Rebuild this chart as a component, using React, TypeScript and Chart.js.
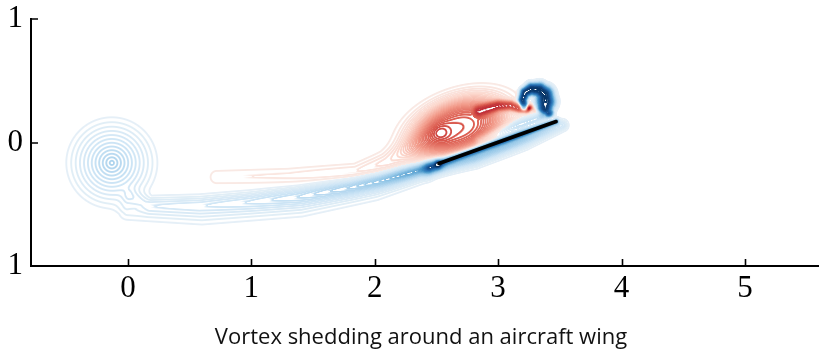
import { useEffect, useRef } from "react";
import { Chart, registerables } from "chart.js";

Chart.register(...registerables);

const TITLE = "Vortex shedding around an aircraft wing";

// axes
const xTicks = [0, 1, 2, 3, 4, 5];
const yTicks = [-1, 0, 1];
const xLimits = [-0.785, 5.6];
const yLimits = [-1, 1];

// wing chord, leading edge -> trailing edge
const wingX = [2.52, 3.47];
const wingY = [-0.17, 0.17];

// contour levels are spaced one unit of vorticity apart, up to this many on each side
const levelCount = 45;
const colourFloor = 0.07;

// compact vortex cores: [x, y, strength, spread along, spread across, tilt deg, profile exponent (0 = cone)]
const startingVortex = [-0.13, -0.165, 12.6, 0.42, 0.42, 0, 0];
const leadingEdgeVortex = [2.68, 0.12, -26, 0.38, 0.22, 20, 3];
const curlLobe = [3.255, 0.283, -30, 0.028, 0.025, 0, 2];

// vortex sheets, polyline vertices: [x, y, strength, thickness]
const wakeSheet = [
  [0.02, -0.44, 2.5, 0.06],
  [0.18, -0.5, 3, 0.06],
  [0.58, -0.5, 4, 0.065],
  [0.99, -0.47, 5, 0.065],
  [1.39, -0.43, 7, 0.065],
  [1.8, -0.36, 10, 0.06],
  [2.04, -0.31, 14, 0.055],
  [2.28, -0.245, 20, 0.05],
  [2.5, -0.18, 24, 0.045],
];
const wakeSheetOuter = [
  [0.0, -0.55, 2.5, 0.08],
  [0.6, -0.57, 3, 0.09],
  [1.4, -0.5, 3.5, 0.09],
  [2.0, -0.38, 3.5, 0.08],
  [2.4, -0.26, 3.5, 0.06],
];
const separatedLayer = [
  [0.72, -0.28, -1.8, 0.065],
  [1.3, -0.27, -2.2, 0.065],
  [1.85, -0.24, -3.2, 0.065],
  [2.1, -0.16, -4.5, 0.08],
  [2.3, -0.04, -5, 0.09],
  [2.5, 0.07, -5, 0.1],
];
const shearLayer = [
  [2.85, 0.26, -12, 0.05],
  [3.0, 0.3, -22, 0.045],
  [3.1, 0.3, -24, 0.04],
  [3.17, 0.275, -24, 0.034],
  [3.23, 0.265, -20, 0.03],
];
const trailingLayer = [
  [3.3, 0.26, -8, 0.02],
  [3.38, 0.22, -6, 0.018],
  [3.46, 0.18, -4, 0.015],
];
const wingLayer = [
  [2.52, -0.17, 22, 0.03],
  [2.75, -0.09, 30, 0.026],
  [3.0, 0.0, 32, 0.025],
  [3.47, 0.17, 28, 0.022],
];
const wingLayerLower = [
  [2.45, -0.21, 20, 0.055],
  [2.8, -0.11, 20, 0.065],
  [3.2, 0.03, 14, 0.06],
  [3.52, 0.14, 6, 0.04],
];
const wingLayerUpper = [
  [2.85, 0.02, 6, 0.035],
  [3.15, 0.14, 10, 0.04],
  [3.4, 0.22, 8, 0.03],
];
const tipCurl = [
  [3.211, 0.291, 40, 0.03],
  [3.198, 0.348, 43, 0.036],
  [3.219, 0.405, 44, 0.042],
  [3.271, 0.433, 44, 0.05],
  [3.336, 0.425, 44, 0.06],
  [3.377, 0.389, 44, 0.07],
  [3.385, 0.332, 44, 0.075],
  [3.381, 0.283, 43, 0.064],
  [3.409, 0.243, 34, 0.042],
];

const cores = [startingVortex, leadingEdgeVortex, curlLobe];
const sheets = [
  { pts: wakeSheet, p: 2 },
  { pts: wakeSheetOuter, p: 2 },
  { pts: separatedLayer, p: 2 },
  { pts: shearLayer, p: 3 },
  { pts: trailingLayer, p: 2 },
  { pts: wingLayer, p: 2 },
  { pts: wingLayerLower, p: 2 },
  { pts: wingLayerUpper, p: 2 },
  { pts: tipCurl, p: 3 },
];

// diverging red-blue colour map
const RDBU = [
  [103, 0, 31], [178, 24, 43], [218, 90, 78], [242, 155, 138], [252, 216, 206],
  [247, 247, 247], [208, 230, 246], [150, 200, 232], [67, 147, 200], [33, 102, 172], [5, 48, 97],
];

function rdbu(u: number): number[] {
  const c = Math.min(1, Math.max(0, u)) * 10;
  const i = Math.min(9, Math.floor(c));
  const f = c - i;
  const a = RDBU[i], b = RDBU[i + 1];
  return [a[0] + (b[0] - a[0]) * f, a[1] + (b[1] - a[1]) * f, a[2] + (b[2] - a[2]) * f];
}

function profile(q: number, p: number): number {
  if (p === 0) return q < 1 ? Math.pow(1 - q, 1.2) : 0;
  return Math.exp(-Math.pow(q, p));
}

type Seg = { ax: number; ay: number; dx: number; dy: number; len2: number; a0: number; a1: number; s0: number; s1: number };

function buildSegments(pts: number[][]): Seg[] {
  const out: Seg[] = [];
  for (let i = 0; i < pts.length - 1; i++) {
    const [ax, ay, a0, s0] = pts[i];
    const [bx, by, a1, s1] = pts[i + 1];
    const dx = bx - ax, dy = by - ay;
    out.push({ ax, ay, dx, dy, len2: dx * dx + dy * dy || 1e-12, a0, a1, s0, s1 });
  }
  return out;
}

function vorticity(x: number, y: number, segSets: { segs: Seg[]; p: number }[]): number {
  let w = 0;
  for (const c of cores) {
    const [cx, cy, a, sa, sb, ang, p] = c;
    const th = (ang * Math.PI) / 180;
    const co = Math.cos(th), si = Math.sin(th);
    const dx = x - cx, dy = y - cy;
    const u = (dx * co + dy * si) / sa;
    const v = (-dx * si + dy * co) / sb;
    w += a * profile(Math.sqrt(u * u + v * v), p);
  }
  for (const set of segSets) {
    let best = 0;
    for (const s of set.segs) {
      let t = ((x - s.ax) * s.dx + (y - s.ay) * s.dy) / s.len2;
      t = t < 0 ? 0 : t > 1 ? 1 : t;
      const px = s.ax + s.dx * t - x, py = s.ay + s.dy * t - y;
      const d = Math.sqrt(px * px + py * py);
      const amp = s.a0 + (s.a1 - s.a0) * t;
      const th = s.s0 + (s.s1 - s.s0) * t;
      const val = amp * profile(d / th, set.p);
      if (Math.abs(val) > Math.abs(best)) best = val;
    }
    w += best;
  }
  return w;
}

const levelColours: number[][] = [];
for (let k = -levelCount; k <= levelCount; k++) {
  const t = colourFloor + ((1 - colourFloor) * Math.abs(k)) / levelCount;
  levelColours.push(rdbu(0.5 + Math.sign(k) * t * 0.5));
}

const contourPlugin = {
  id: "vorticityContours",
  beforeDatasetsDraw(chart: any) {
    const { ctx, chartArea: area, scales } = chart;
    const xs = scales.x, ys = scales.y;
    const L = Math.floor(area.left), T = Math.floor(area.top);
    const W = Math.ceil(area.right) - L, H = Math.ceil(area.bottom) - T;
    const gw = W + 2, gh = H + 2;
    const xv = new Float64Array(gw), yv = new Float64Array(gh);
    for (let i = 0; i < gw; i++) xv[i] = xs.getValueForPixel(L - 1 + i + 0.5);
    for (let j = 0; j < gh; j++) yv[j] = ys.getValueForPixel(T - 1 + j + 0.5);
    const segSets = sheets.map((s) => ({ segs: buildSegments(s.pts), p: s.p }));
    const f = new Float32Array(gw * gh);
    for (let j = 0; j < gh; j++) for (let i = 0; i < gw; i++) f[j * gw + i] = vorticity(xv[i], yv[j], segSets);

    const off = document.createElement("canvas");
    off.width = W;
    off.height = H;
    const octx = off.getContext("2d")!;
    const img = octx.createImageData(W, H);
    const halfWidth = 0.95;
    for (let j = 0; j < H; j++) {
      for (let i = 0; i < W; i++) {
        const c = (j + 1) * gw + (i + 1);
        const w = f[c];
        const gx = (f[c + 1] - f[c - 1]) * 0.5;
        const gy = (f[c + gw] - f[c - gw]) * 0.5;
        const g = Math.sqrt(gx * gx + gy * gy) + 1e-9;
        let k = Math.round(w);
        if (k === 0) k = w >= 0 ? 1 : -1;
        if (k > levelCount) k = levelCount;
        if (k < -levelCount) k = -levelCount;
        const d = Math.abs(w - k) / g;
        const alpha = Math.min(1, Math.max(0, halfWidth + 0.5 - d));
        if (alpha <= 0) continue;
        const col = levelColours[k + levelCount];
        const o = (j * W + i) * 4;
        img.data[o] = col[0];
        img.data[o + 1] = col[1];
        img.data[o + 2] = col[2];
        img.data[o + 3] = Math.round(alpha * 255);
      }
    }
    octx.putImageData(img, 0, 0);
    ctx.drawImage(off, L, T);
  },
};

// tick marks pointing into the axes, and the caption under the axis
const axisDecorPlugin = {
  id: "axisDecor",
  afterDraw(chart: any) {
    const { ctx, chartArea: a, scales } = chart;
    ctx.save();
    ctx.strokeStyle = "#000";
    ctx.lineWidth = 1.6;
    ctx.beginPath();
    for (const v of xTicks) {
      const px = Math.round(scales.x.getPixelForValue(v)) + 0.5;
      ctx.moveTo(px, a.bottom);
      ctx.lineTo(px, a.bottom - 7);
    }
    for (const v of yTicks) {
      const py = Math.round(scales.y.getPixelForValue(v));
      ctx.moveTo(a.left, py);
      ctx.lineTo(a.left + 7, py);
    }
    ctx.stroke();
    ctx.fillStyle = "#111";
    ctx.font = "22px 'Open Sans', sans-serif";
    ctx.textAlign = "center";
    ctx.textBaseline = "middle";
    ctx.fillText(TITLE, 421, 338);
    ctx.restore();
  },
};

export default function App() {
  const ref = useRef<HTMLCanvasElement | null>(null);

  useEffect(() => {
    document.body.style.margin = "0";
    const canvas = ref.current;
    if (!canvas) return;
    const tickFont = { family: "'Liberation Serif', serif", size: 31 };
    const chart = new Chart(canvas, {
      type: "scatter",
      data: {
        datasets: [
          {
            type: "line",
            data: wingX.map((x, i) => ({ x, y: wingY[i] })),
            borderColor: "#000",
            borderWidth: 3.5,
            borderCapStyle: "round",
            pointRadius: 0,
            fill: false,
          } as any,
        ],
      },
      options: {
        animation: false,
        responsive: false,
        maintainAspectRatio: false,
        layout: { padding: { top: 19, right: 0, left: 0, bottom: 0 } },
        plugins: { legend: { display: false }, tooltip: { enabled: false } },
        scales: {
          x: {
            type: "linear",
            min: xLimits[0],
            max: xLimits[1],
            afterBuildTicks: (s: any) => {
              s.ticks = xTicks.map((v) => ({ value: v }));
            },
            afterFit: (s: any) => {
              s.height = 84;
              s.paddingLeft = 0;
              s.paddingRight = 0;
            },
            grid: { display: false, drawTicks: false },
            border: { display: true, color: "#000", width: 2, z: 2 },
            ticks: { font: tickFont, color: "#000", padding: 4, maxRotation: 0, autoSkip: false },
          },
          y: {
            type: "linear",
            min: yLimits[0],
            max: yLimits[1],
            afterBuildTicks: (s: any) => {
              s.ticks = yTicks.map((v) => ({ value: v }));
            },
            afterFit: (s: any) => {
              s.width = 31;
              s.paddingTop = 0;
              s.paddingBottom = 0;
            },
            grid: { display: false, drawTicks: false },
            border: { display: true, color: "#000", width: 2, z: 2 },
            ticks: {
              font: tickFont,
              color: "#000",
              padding: 8,
              autoSkip: false,
              callback: (v: any) => String(Math.abs(Number(v))),
            },
          },
        },
      } as any,
      plugins: [contourPlugin, axisDecorPlugin],
    });
    return () => chart.destroy();
  }, []);

  return (
    <div style={{ width: 819, height: 350, background: "#fff" }}>
      <canvas ref={ref} width={819} height={350} style={{ display: "block" }} />
    </div>
  );
}
